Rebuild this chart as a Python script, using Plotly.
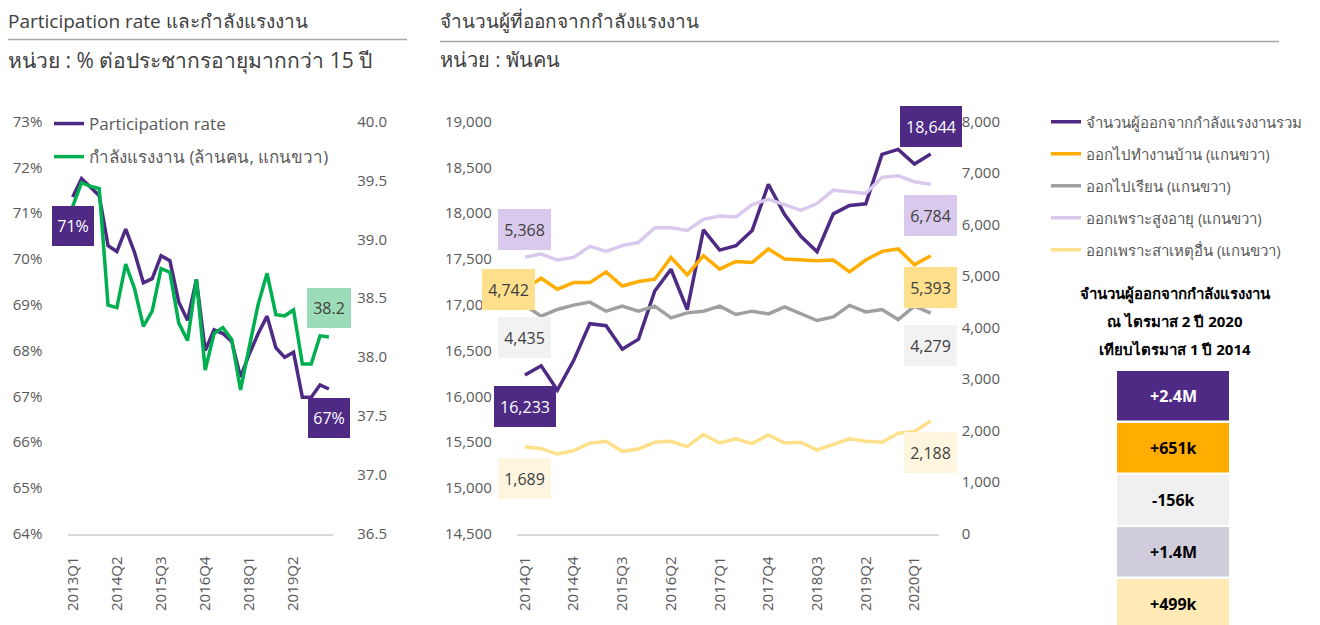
import plotly.graph_objects as go

# The page body adds an 8 px margin, so the figure is 8 px smaller and
# every reference pixel position is shifted by OFF.
OFF = 8
W, H = 1320 - OFF, 625 - OFF

# ---------------- data ----------------
quarters_left = [f"{y}Q{q}" for y in range(2013, 2021) for q in range(1, 5)][:30]
participation_rate = [71.35, 71.75, 71.57, 71.38, 70.29, 70.16, 70.65, 70.14, 69.48, 69.57,
                      70.07, 69.96, 69.06, 68.66, 69.55, 68.00, 68.45, 68.37, 68.20, 67.42,
                      67.93, 68.37, 68.75, 68.06, 67.85, 67.96, 66.98, 66.98, 67.25, 67.16]
labour_force = [39.28, 39.48, 39.45, 39.43, 38.44, 38.42, 38.79, 38.58, 38.26, 38.39,
                38.75, 38.72, 38.29, 38.14, 38.66, 37.89, 38.20, 38.25, 38.15, 37.72,
                38.09, 38.45, 38.71, 38.36, 38.35, 38.40, 37.94, 37.94, 38.18, 38.17]
left_ticks = ["2013Q1", "2014Q2", "2015Q3", "2016Q4", "2018Q1", "2019Q2"]

quarters_right = [f"{y}Q{q}" for y in range(2014, 2021) for q in range(1, 5)][:26]
total_out = [16233, 16334, 16067, 16390, 16793, 16771, 16514, 16624, 17149, 17387,
             16947, 17816, 17596, 17644, 17809, 18315, 17985, 17746, 17578, 17992,
             18084, 18102, 18641, 18696, 18535, 18644]
housework = [4742, 4959, 4744, 4873, 4873, 5082, 4808, 4893, 4939, 5362,
             5023, 5395, 5135, 5284, 5264, 5526, 5330, 5317, 5297, 5311,
             5082, 5311, 5479, 5526, 5219, 5393]
study = [4435, 4221, 4352, 4436, 4495, 4319, 4417, 4319, 4417, 4188,
         4286, 4319, 4417, 4254, 4319, 4266, 4403, 4266, 4137, 4208,
         4430, 4305, 4352, 4156, 4417, 4279]
elderly = [5368, 5428, 5311, 5362, 5577, 5479, 5591, 5656, 5937, 5937,
           5885, 6100, 6164, 6145, 6387, 6491, 6387, 6276, 6407, 6667,
           6634, 6603, 6916, 6947, 6830, 6784]
other = [1689, 1650, 1546, 1612, 1755, 1794, 1599, 1644, 1775, 1794,
         1690, 1925, 1761, 1840, 1749, 1918, 1761, 1775, 1624, 1730,
         1840, 1794, 1775, 1951, 1984, 2188]
right_ticks = ["2014Q1", "2014Q4", "2015Q3", "2016Q2", "2017Q1", "2017Q4", "2018Q3", "2019Q2", "2020Q1"]

summary_labels = ["+2.4M", "+651k", "-156k", "+1.4M", "+499k"]

# ---------------- styles ----------------
PURPLE = "#4E2A84"
GREEN = "#00B050"
ORANGE = "#FFAD00"
GREY = "#A0A0A0"
LAVENDER = "#D9C9EC"
YELLOW = "#FFE08A"
TXT = "#595959"
FONT = "Open Sans, Noto Sans, sans-serif"
LW = 3.5


def px_x(p):
    return (p - OFF) / W


def px_y(p):
    return 1 - (p - OFF) / H


fig = go.Figure()

fig.add_trace(go.Scatter(x=quarters_left, y=participation_rate, mode="lines", name="Participation rate",
                         line=dict(color=PURPLE, width=LW), xaxis="x", yaxis="y",
                         legend="legend", legendgroup="a"))
fig.add_trace(go.Scatter(x=quarters_left, y=labour_force, mode="lines",
                         name="กำลังแรงงาน (ล้านคน, แกนขวา)",
                         line=dict(color=GREEN, width=LW), xaxis="x", yaxis="y2",
                         legend="legend", legendgroup="b"))

right_series = [
    ("จำนวนผู้ออกจากกำลังแรงงานรวม", total_out, PURPLE, "y3"),
    ("ออกไปทำงานบ้าน (แกนขวา)", housework, ORANGE, "y4"),
    ("ออกไปเรียน (แกนขวา)", study, GREY, "y4"),
    ("ออกเพราะสูงอายุ (แกนขวา)", elderly, LAVENDER, "y4"),
    ("ออกเพราะสาเหตุอื่น (แกนขวา)", other, YELLOW, "y4"),
]
for i, (nm, vals, col, ya) in enumerate(right_series):
    fig.add_trace(go.Scatter(x=quarters_right, y=vals, mode="lines", name=nm,
                             line=dict(color=col, width=LW), xaxis="x2", yaxis=ya,
                             legend="legend2", legendgroup=f"r{i}"))

tickfont = dict(family=FONT, size=15, color=TXT)
plot_y = [px_y(533.7), px_y(121.5)]
common = dict(showgrid=False, zeroline=False, automargin=False, tickfont=tickfont)

fig.update_layout(
    width=W, height=H,
    margin=dict(l=0, r=0, t=0, b=0, autoexpand=False),
    paper_bgcolor="white", plot_bgcolor="white",
    font=dict(family=FONT, color=TXT),
    xaxis=dict(domain=[px_x(68.3), px_x(333.3)], anchor="y", type="category",
               range=[-0.5, len(quarters_left) - 0.5], tickvals=left_ticks, ticktext=left_ticks,
               tickangle=-90, showline=True, linecolor="#D9D9D9", linewidth=1.5, ticks="",
               ticklabelstandoff=15, **common),
    yaxis=dict(domain=plot_y, anchor="x", range=[64, 73], dtick=1, ticksuffix="%",
               ticklabelstandoff=25, **common),
    yaxis2=dict(overlaying="y", anchor="x", side="right", range=[36.5, 40.0], dtick=0.5,
                tickformat=".1f", ticklabelstandoff=23, **common),
    xaxis2=dict(domain=[px_x(516.8), px_x(938.8)], anchor="y3", type="category",
                range=[-0.5, len(quarters_right) - 0.5], tickvals=right_ticks, ticktext=right_ticks,
                tickangle=-90, showline=True, linecolor="#D9D9D9", linewidth=1.5, ticks="",
                ticklabelstandoff=15, **common),
    yaxis3=dict(domain=plot_y, anchor="x2", range=[14500, 19000], dtick=500, tickformat=",",
                ticklabelstandoff=24, **common),
    yaxis4=dict(overlaying="y3", anchor="x2", side="right", range=[0, 8000], dtick=1000,
                tickformat=",", ticklabelstandoff=22, **common),
    legend=dict(x=px_x(49), y=px_y(106), xanchor="left", yanchor="top",
                font=dict(family=FONT, size=17, color=TXT), bgcolor="rgba(0,0,0,0)",
                itemwidth=30, tracegroupgap=8),
    legend2=dict(x=px_x(1046), y=px_y(105.5), xanchor="left", yanchor="top",
                 font=dict(family=FONT, size=15, color=TXT), bgcolor="rgba(0,0,0,0)",
                 itemwidth=30, tracegroupgap=9.5),
    showlegend=True,
)

annotations = []
shapes = []


def text(x, y, s, size, color="#404040", bold=False, xanchor="left"):
    annotations.append(dict(xref="paper", yref="paper", x=px_x(x), y=px_y(y), text=f"<b>{s}</b>" if bold else s,
                            showarrow=False, xanchor=xanchor, yanchor="middle",
                            font=dict(family=FONT, size=size, color=color)))


# titles
text(6, 21, "Participation rate และกำลังแรงงาน", 19)
text(6, 60, "หน่วย : % ต่อประชากรอายุมากกว่า 15 ปี", 21)
text(438, 21, "จำนวนผู้ที่ออกจากกำลังแรงงาน", 19)
text(438, 60, "หน่วย : พันคน", 20)
shapes.append(dict(type="line", xref="paper", yref="paper", x0=px_x(8), x1=px_x(407),
                   y0=px_y(39.5), y1=px_y(39.5), line=dict(color="#A6A6A6", width=1.5)))
shapes.append(dict(type="line", xref="paper", yref="paper", x0=px_x(440), x1=px_x(1279),
                   y0=px_y(41.5), y1=px_y(41.5), line=dict(color="#A6A6A6", width=1.5)))


# data-label boxes
def box(xref, yref, x, y, s, bg, fg, w, h, xshift=0, yshift=0):
    annotations.append(dict(xref=xref, yref=yref, x=x, y=y, text=s, showarrow=False,
                            xanchor="center", yanchor="middle", xshift=xshift, yshift=yshift,
                            bgcolor=bg, width=w, height=h, borderpad=0, borderwidth=0,
                            font=dict(family=FONT, size=16, color=fg)))


box("x", "y", quarters_left[0], participation_rate[0], f"{participation_rate[0]:.0f}%", PURPLE, "white", 42, 40, yshift=-29)
box("x", "y", quarters_left[-1], participation_rate[-1], f"{participation_rate[-1]:.0f}%", PURPLE, "white", 42, 40, yshift=-29)
box("x", "y2", quarters_left[-1], labour_force[-1], f"{labour_force[-1]:.1f}", "#9DDCB9", "#404040", 44, 40, yshift=29)

box("x2", "y3", quarters_right[-1], total_out[-1], f"{total_out[-1]:,}", PURPLE, "white", 62, 41, yshift=28)
box("x2", "y3", quarters_right[0], total_out[0], f"{total_out[0]:,}", PURPLE, "white", 62, 41, yshift=-32)
box("x2", "y4", quarters_right[0], elderly[0], f"{elderly[0]:,}", LAVENDER, "#404040", 53, 41, yshift=28)
box("x2", "y4", quarters_right[-1], elderly[-1], f"{elderly[-1]:,}", LAVENDER, "#404040", 53, 41, yshift=-31)
box("x2", "y4", quarters_right[0], housework[0], f"{housework[0]:,}", "#FEDF8B", "#404040", 53, 41, xshift=-16.6)
box("x2", "y4", quarters_right[-1], housework[-1], f"{housework[-1]:,}", "#FEDF8B", "#404040", 53, 41, yshift=-32)
box("x2", "y4", quarters_right[0], study[0], f"{study[0]:,}", "#F2F2F2", "#404040", 53, 41, yshift=-32)
box("x2", "y4", quarters_right[-1], study[-1], f"{study[-1]:,}", "#F2F2F2", "#404040", 53, 41, yshift=-32)
box("x2", "y4", quarters_right[0], other[0], f"{other[0]:,}", "#FFF6E0", "#404040", 53, 41, yshift=-32)
box("x2", "y4", quarters_right[-1], other[-1], f"{other[-1]:,}", "#FFF6E0", "#404040", 53, 41, yshift=-32)

# summary block
text(1175, 293, "จำนวนผู้ออกจากกำลังแรงงาน", 15, "black", True, "center")
text(1175, 321, "ณ ไตรมาส 2 ปี 2020", 15, "black", True, "center")
text(1175, 349, "เทียบไตรมาส 1 ปี 2014", 15, "black", True, "center")
sum_colors = [PURPLE, ORANGE, "#F0F0F0", "#D0CCDB", "#FFE9B5"]
sum_text = ["white", "black", "black", "black", "black"]
top = 371
for lab, bg, fg in zip(summary_labels, sum_colors, sum_text):
    shapes.append(dict(type="rect", xref="paper", yref="paper", x0=px_x(1117), x1=px_x(1229),
                       y0=px_y(top + 49.5), y1=px_y(top), fillcolor=bg, line=dict(width=0), layer="below"))
    text(1173, top + 24.5, lab, 16, fg, True, "center")
    top += 52

fig.update_layout(annotations=annotations, shapes=shapes)
fig.write_html("out.html")
